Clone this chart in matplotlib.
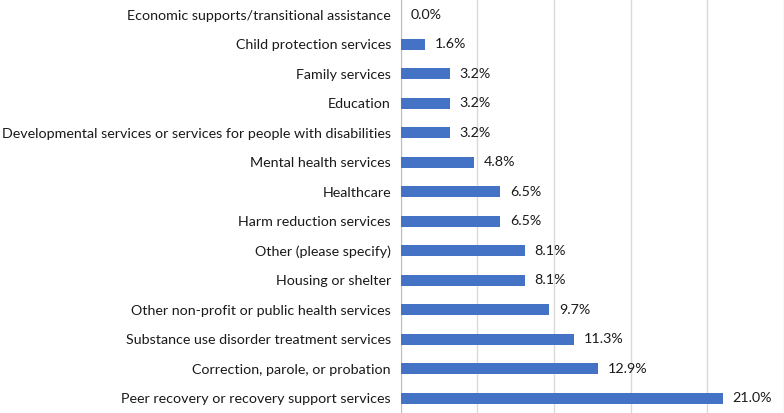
import matplotlib
matplotlib.use("Agg")
import matplotlib.pyplot as plt
import numpy as np

matplotlib.rc('font', family=['Lato', 'DejaVu Sans'])

categories = ['Economic supports/transitional assistance',
              'Child protection services',
              'Family services',
              'Education',
              'Developmental services or services for people with disabilities',
              'Mental health services',
              'Healthcare',
              'Harm reduction services',
              'Other (please specify)',
              'Housing or shelter',
              'Other non-profit or public health services',
              'Substance use disorder treatment services',
              'Correction, parole, or probation',
              'Peer recovery or recovery support services']
values = [0.0, 1.6, 3.2, 3.2, 3.2, 4.8, 6.5, 6.5, 8.1, 8.1, 9.7, 11.3, 12.9, 21.0]
xticks = [0, 5, 10, 15, 20, 25]

fig = plt.figure(figsize=(7.84, 4.13), dpi=100)
ax = fig.add_axes([400.7 / 784, 0.0, 383.3 / 784, 1.0])

ypos = np.arange(len(categories))
ax.barh(ypos, values, height=0.38, color='#4472C4', zorder=3)

for y, v in zip(ypos, values):
    ax.annotate('%.1f%%' % v, (v, y), xytext=(7, 0), textcoords='offset points',
                va='center', ha='left', fontsize=10.3, color='#1a1a1a')

ax.set_xlim(0, 25)
ax.set_ylim(len(categories) - 0.5, -0.5)
ax.set_xticks(xticks)
ax.xaxis.grid(True, color='#D9D9D9', linewidth=1)
ax.set_yticks(ypos)
ax.set_yticklabels(categories, fontsize=10.3, color='#1a1a1a')
ax.tick_params(axis='y', length=0, pad=7)
ax.tick_params(axis='x', length=0, labelbottom=False)
for s in ['top', 'right', 'bottom']:
    ax.spines[s].set_visible(False)
ax.spines['left'].set_color('#BFBFBF')

fig.savefig('out.png', dpi=100)
